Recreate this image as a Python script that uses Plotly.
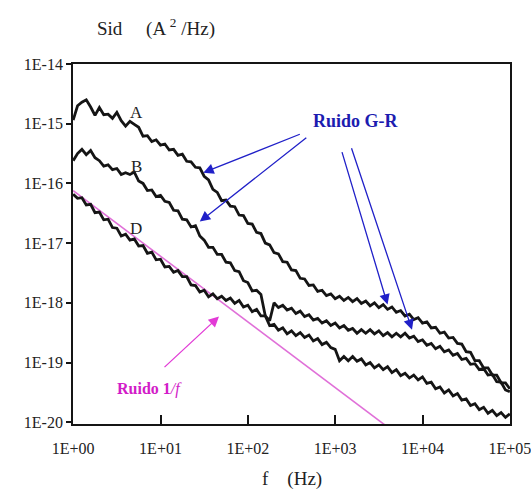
import plotly.graph_objects as go

# log10 of frequency (Hz) sampled along the curves
LOG_F = [0.00, 0.05, 0.10, 0.15, 0.20, 0.25, 0.30, 0.35, 0.40, 0.45,
         0.50, 0.55, 0.60, 0.65, 0.70, 0.75, 0.80, 0.85, 0.90, 0.95,
         1.00, 1.05, 1.10, 1.15, 1.20, 1.25, 1.30, 1.35, 1.40, 1.45,
         1.50, 1.55, 1.60, 1.65, 1.70, 1.75, 1.80, 1.85, 1.90, 1.95,
         2.00, 2.05, 2.10, 2.15, 2.20, 2.25, 2.30, 2.35, 2.40, 2.45,
         2.50, 2.55, 2.60, 2.65, 2.70, 2.75, 2.80, 2.85, 2.90, 2.95,
         3.00, 3.05, 3.10, 3.15, 3.20, 3.25, 3.30, 3.35, 3.40, 3.45,
         3.50, 3.55, 3.60, 3.65, 3.70, 3.75, 3.80, 3.85, 3.90, 3.95,
         4.00, 4.05, 4.10, 4.15, 4.20, 4.25, 4.30, 4.35, 4.40, 4.45,
         4.50, 4.55, 4.60, 4.65, 4.70, 4.75, 4.80, 4.85, 4.90, 4.95,
         5.00]

# log10 of Sid (A^2/Hz) for each curve
LOG_A = [-14.94, -14.70, -14.64, -14.60, -14.72, -14.86, -14.73, -14.85, -14.84, -14.91,
         -14.81, -14.95, -15.04, -14.96, -15.01, -15.06, -15.21, -15.20, -15.30, -15.27,
         -15.36, -15.34, -15.44, -15.43, -15.53, -15.51, -15.63, -15.64, -15.73, -15.74,
         -15.88, -15.94, -16.10, -16.15, -16.29, -16.28, -16.38, -16.39, -16.53, -16.54,
         -16.67, -16.68, -16.82, -16.84, -17.00, -17.03, -17.16, -17.18, -17.31, -17.32,
         -17.45, -17.46, -17.59, -17.60, -17.71, -17.70, -17.81, -17.79, -17.88, -17.85,
         -17.93, -17.89, -17.96, -17.91, -17.98, -17.93, -18.01, -17.97, -18.05, -18.00,
         -18.08, -18.03, -18.11, -18.07, -18.16, -18.13, -18.22, -18.19, -18.28, -18.25,
         -18.34, -18.32, -18.42, -18.41, -18.51, -18.49, -18.59, -18.58, -18.68, -18.69,
         -18.82, -18.83, -18.97, -18.97, -19.09, -19.09, -19.21, -19.21, -19.34, -19.34,
         -19.44]

LOG_B = [-15.62, -15.50, -15.43, -15.52, -15.45, -15.57, -15.62, -15.71, -15.69, -15.77,
         -15.75, -15.85, -15.82, -15.85, -15.81, -15.96, -16.00, -16.12, -16.11, -16.22,
         -16.20, -16.30, -16.32, -16.45, -16.46, -16.60, -16.61, -16.73, -16.71, -16.88,
         -16.95, -17.07, -17.07, -17.19, -17.19, -17.32, -17.33, -17.46, -17.48, -17.63,
         -17.66, -17.80, -17.79, -17.86, -18.22, -18.30, -18.00, -18.08, -18.04, -18.12,
         -18.09, -18.18, -18.14, -18.23, -18.20, -18.29, -18.26, -18.34, -18.30, -18.38,
         -18.34, -18.42, -18.38, -18.46, -18.43, -18.51, -18.45, -18.51, -18.45, -18.52,
         -18.47, -18.55, -18.50, -18.57, -18.51, -18.57, -18.51, -18.59, -18.56, -18.65,
         -18.62, -18.71, -18.68, -18.77, -18.73, -18.82, -18.79, -18.88, -18.85, -18.95,
         -18.93, -19.03, -19.02, -19.12, -19.10, -19.21, -19.20, -19.32, -19.33, -19.46,
         -19.49]

LOG_D = [-16.18, -16.25, -16.24, -16.36, -16.35, -16.49, -16.48, -16.61, -16.60, -16.74,
         -16.75, -16.88, -16.85, -16.95, -16.93, -17.05, -17.04, -17.17, -17.15, -17.28,
         -17.27, -17.40, -17.39, -17.49, -17.46, -17.56, -17.56, -17.70, -17.71, -17.82,
         -17.79, -17.90, -17.85, -17.93, -17.89, -17.96, -17.92, -18.01, -17.96, -18.07,
         -18.04, -18.15, -18.11, -18.22, -18.22, -18.38, -18.36, -18.46, -18.42, -18.52,
         -18.47, -18.55, -18.50, -18.58, -18.54, -18.64, -18.60, -18.70, -18.66, -18.75,
         -18.78, -18.97, -18.90, -18.97, -18.90, -18.98, -18.94, -19.04, -19.00, -19.09,
         -19.04, -19.12, -19.07, -19.17, -19.12, -19.22, -19.18, -19.26, -19.21, -19.29,
         -19.24, -19.35, -19.33, -19.44, -19.41, -19.51, -19.46, -19.56, -19.52, -19.63,
         -19.61, -19.72, -19.69, -19.79, -19.75, -19.85, -19.80, -19.89, -19.84, -19.92,
         -19.86]

# 1/f reference line (end points, log10 units)
LOG_F_1F = [0.00, 3.70]
LOG_S_1F = [-16.12, -20.19]

X_TICKS = [1e0, 1e1, 1e2, 1e3, 1e4, 1e5]
X_TICK_TEXT = ["1E+00", "1E+01", "1E+02", "1E+03", "1E+04", "1E+05"]
Y_TICKS = [1e-20, 1e-19, 1e-18, 1e-17, 1e-16, 1e-15, 1e-14]
Y_TICK_TEXT = ["1E-20", "1E-19", "1E-18", "1E-17", "1E-16", "1E-15", "1E-14"]

CURVE_LABELS = ["A", "B", "D"]
CURVE_LABEL_POS = [(0.72, -14.81), (0.72, -15.71), (0.72, -16.76)]

freq = [10 ** v for v in LOG_F]

SERIF = "Liberation Serif"
INK = "#151515"
BLUE = "#2020c8"
MAGENTA = "#e23ad6"

fig = go.Figure()

fig.add_trace(go.Scatter(x=[10 ** v for v in LOG_F_1F], y=[10 ** v for v in LOG_S_1F],
                         mode="lines", line=dict(color="#e070d8", width=1.6),
                         showlegend=False, hoverinfo="skip"))

for name, vals in zip(CURVE_LABELS, [LOG_A, LOG_B, LOG_D]):
    fig.add_trace(go.Scatter(x=freq, y=[10 ** v for v in vals], mode="lines",
                             name=name, line=dict(color=INK, width=2.8),
                             showlegend=False))

annotations = []
for lab, (lx, ly) in zip(CURVE_LABELS, CURVE_LABEL_POS):
    annotations.append(dict(x=lx, y=ly, xref="x", yref="y", text=lab, showarrow=False,
                            font=dict(family=SERIF, size=17, color="#222")))

# G-R arrows: (head logf, head logS, tail dx px, tail dy px)
GR_ARROWS = [(1.49, -15.82, 98, -39), (1.45, -16.64, 108, -85),
             (3.60, -18.03, -46, -154), (3.88, -18.45, -61, -183)]
for hx, hy, dx, dy in GR_ARROWS:
    annotations.append(dict(x=hx, y=hy, xref="x", yref="y", text="", showarrow=True,
                            ax=dx, ay=dy, arrowhead=2, arrowsize=1.6, arrowwidth=1.3,
                            arrowcolor=BLUE, standoff=0))
annotations.append(dict(x=3.24, y=-14.95, xref="x", yref="y", text="<b>Ruido G-R</b>",
                        showarrow=False, font=dict(family=SERIF, size=18, color="#1c1cb0")))

annotations.append(dict(x=1.67, y=-18.23, xref="x", yref="y", text="", showarrow=True,
                        ax=-56, ay=52, arrowhead=2, arrowsize=1.6, arrowwidth=1.3,
                        arrowcolor=MAGENTA, standoff=0))
annotations.append(dict(x=0.87, y=-19.45, xref="x", yref="y",
                        text="<b>Ruido 1</b><i>/f</i>", showarrow=False,
                        font=dict(family=SERIF, size=16, color="#d21cc8")))

annotations.append(dict(x=0.19, y=1, xref="paper", yref="paper", yshift=37,
                        yanchor="middle", xanchor="center",
                        text="Sid     (A <sup>2</sup> /Hz)", showarrow=False,
                        font=dict(family=SERIF, size=19, color="#222")))
annotations.append(dict(x=0.50, y=0, xref="paper", yref="paper", yshift=-55,
                        yanchor="middle", xanchor="center",
                        text="f    (Hz)", showarrow=False,
                        font=dict(family=SERIF, size=19, color="#222")))

fig.update_layout(
    width=531, height=495,
    margin=dict(l=73, r=21, t=64, b=71),
    paper_bgcolor="white", plot_bgcolor="white",
    showlegend=False,
    annotations=annotations,
    xaxis=dict(type="log", range=[-0.002, 5.002], tickvals=X_TICKS, ticktext=X_TICK_TEXT,
               ticks="inside", ticklen=9, tickwidth=1.5, tickcolor=INK,
               showline=True, linecolor=INK, linewidth=1.8, mirror=True,
               showgrid=False, zeroline=False, ticklabelstandoff=9,
               ticklabeloverflow="allow", automargin=False,
               tickfont=dict(family=SERIF, size=16, color="#222")),
    yaxis=dict(type="log", range=[-20.03, -14], tickvals=Y_TICKS, ticktext=Y_TICK_TEXT,
               ticks="outside", ticklen=5, tickwidth=1.5, tickcolor=INK,
               showline=True, linecolor=INK, linewidth=1.8, mirror=True,
               showgrid=False, zeroline=False, ticklabelstandoff=0, automargin=False,
               tickfont=dict(family=SERIF, size=16, color="#222")),
    yaxis2=dict(type="log", range=[-20.03, -14], tickvals=Y_TICKS, overlaying="y",
                anchor="x", side="left", ticks="inside", ticklen=5, tickwidth=1.5,
                tickcolor=INK, showticklabels=False, showline=False, showgrid=False,
                zeroline=False, automargin=False),
)

fig.write_html("out.html")
